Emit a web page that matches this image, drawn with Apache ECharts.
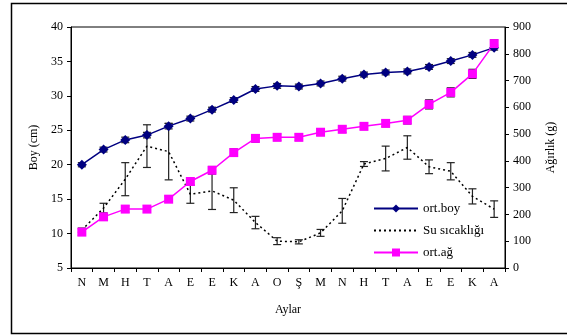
<!DOCTYPE html>
<html>
<head>
<meta charset="utf-8">
<script src="https://cdn.jsdelivr.net/npm/echarts@6/dist/echarts.min.js"></script>
<style>html,body{margin:0;padding:0;background:#fff}#c{width:567px;height:335px}</style>
</head>
<body>
<div id="c"></div>
<script>
const months = ['N','M','H','T','A','E','E','K','A','O','Ş','M','N','H','T','A','E','E','K','A'];
const ortBoy = [20.0,22.2,23.6,24.3,25.6,26.7,28.0,29.4,31.0,31.45,31.35,31.8,32.5,33.1,33.4,33.55,34.2,35.05,35.95,37.0];
const ortBoyErr = [0.3,0.35,0.4,0.4,0.4,0.35,0.35,0.35,0.35,0.35,0.35,0.35,0.35,0.35,0.35,0.35,0.35,0.35,0.35,0.35];
const suSicakligi = [10.5,13.7,17.9,22.7,21.9,15.7,16.2,14.85,11.6,8.9,8.8,10.1,13.3,20.1,20.9,22.5,19.7,19.05,15.4,13.55];
const suErr = [0.3,0.7,2.4,3.1,4.1,1.3,2.7,1.8,0.9,0.5,0.3,0.5,1.8,0.35,1.8,1.7,1.0,1.25,1.1,1.2];
const ortAg = [134,191,220,220,257,323,365,431,484,488,488,507,518,529,540,552,611,656,725,838];
const ortAgErr = [12,12,12,12,12,12,14,14,14,12,12,12,12,12,12,14,17,17,17,14];
const leftTicks = {min:5,max:40,interval:5};
const rightTicks = {min:0,max:900,interval:100};

const font = 'Liberation Serif';
function errData(vals, errs){ return vals.map((v,i)=>[i, v-errs[i], v+errs[i]]); }
function errRender(params, api){
  const x = api.value(0);
  const lo = api.coord([x, api.value(1)]);
  const hi = api.coord([x, api.value(2)]);
  const w = 4;
  const st = {stroke:'#222', lineWidth:1.2};
  return {type:'group', children:[
    {type:'line', shape:{x1:lo[0],y1:lo[1],x2:hi[0],y2:hi[1]}, style:st},
    {type:'line', shape:{x1:lo[0]-w,y1:lo[1],x2:lo[0]+w,y2:lo[1]}, style:st},
    {type:'line', shape:{x1:hi[0]-w,y1:hi[1],x2:hi[0]+w,y2:hi[1]}, style:st}
  ]};
}
const chart = echarts.init(document.getElementById('c'), null, {renderer:'canvas'});
chart.setOption({
  animation:false,
  backgroundColor:'#fff',
  textStyle:{fontFamily:font, color:'#000'},
  graphic:[{type:'rect', shape:{x:11.5,y:3.5,width:600,height:330}, style:{fill:'none', stroke:'#000', lineWidth:1.5}, silent:true}],
  grid:{left:71, right:62, top:27, bottom:67, show:true, borderColor:'#000', borderWidth:1, backgroundColor:'transparent'},
  legend:{
    orient:'vertical', left:368, top:197, itemWidth:44, itemHeight:10, itemGap:9,
    data:['ort.boy',{name:'Su sıcaklığı', itemStyle:{opacity:0}},'ort.ağ'],
    textStyle:{fontFamily:font, fontSize:13, color:'#000'}
  },
  xAxis:{
    type:'category', data:months, boundaryGap:true,
    name:'Aylar', nameLocation:'middle', nameGap:36,
    nameTextStyle:{fontFamily:font, fontSize:12, color:'#000'},
    axisLine:{lineStyle:{color:'#000', width:1}},
    axisTick:{show:true, length:4, lineStyle:{color:'#000'}},
    axisLabel:{fontFamily:font, fontSize:12, color:'#000', margin:9, interval:0},
    splitLine:{show:false}
  },
  yAxis:[{
    type:'value', min:leftTicks.min, max:leftTicks.max, interval:leftTicks.interval,
    name:'Boy (cm)', nameLocation:'middle', nameGap:31, nameRotate:90,
    nameTextStyle:{fontFamily:font, fontSize:12, color:'#000'},
    axisLine:{show:true, lineStyle:{color:'#000'}},
    axisTick:{show:true, length:4, lineStyle:{color:'#000'}},
    axisLabel:{fontFamily:font, fontSize:12, color:'#000', margin:8},
    splitLine:{show:false}
  },{
    type:'value', min:rightTicks.min, max:rightTicks.max, interval:rightTicks.interval, position:'right',
    name:'Ağırlık (g)', nameLocation:'middle', nameGap:40, nameRotate:90,
    nameTextStyle:{fontFamily:font, fontSize:12, color:'#000'},
    axisLine:{show:true, lineStyle:{color:'#000'}},
    axisTick:{show:true, length:4, lineStyle:{color:'#000'}},
    axisLabel:{fontFamily:font, fontSize:12, color:'#000', margin:8},
    splitLine:{show:false}
  }],
  series:[
    {type:'custom', name:'suErr', yAxisIndex:0, renderItem:errRender, data:errData(suSicakligi,suErr), z:2, encode:{x:0,y:[1,2]}},
    {type:'custom', name:'boyErr', yAxisIndex:0, renderItem:errRender, data:errData(ortBoy,ortBoyErr), z:2, encode:{x:0,y:[1,2]}},
    {type:'custom', name:'agErr', yAxisIndex:1, renderItem:errRender, data:errData(ortAg,ortAgErr), z:2, encode:{x:0,y:[1,2]}},
    {type:'line', name:'Su sıcaklığı', yAxisIndex:0, data:suSicakligi, symbol:'none', z:3,
      lineStyle:{color:'#000', width:1.5, type:[2,3]}, itemStyle:{color:'#000'}},
    {type:'line', name:'ort.boy', yAxisIndex:0, data:ortBoy, symbol:'diamond', symbolSize:10, z:4,
      lineStyle:{color:'#000080', width:1.5}, itemStyle:{color:'#000080'}},
    {type:'line', name:'ort.ağ', yAxisIndex:1, data:ortAg, symbol:'rect', symbolSize:9, z:4,
      lineStyle:{color:'#FF00FF', width:1.5}, itemStyle:{color:'#FF00FF'}}
  ]
});
</script>
</body>
</html>
